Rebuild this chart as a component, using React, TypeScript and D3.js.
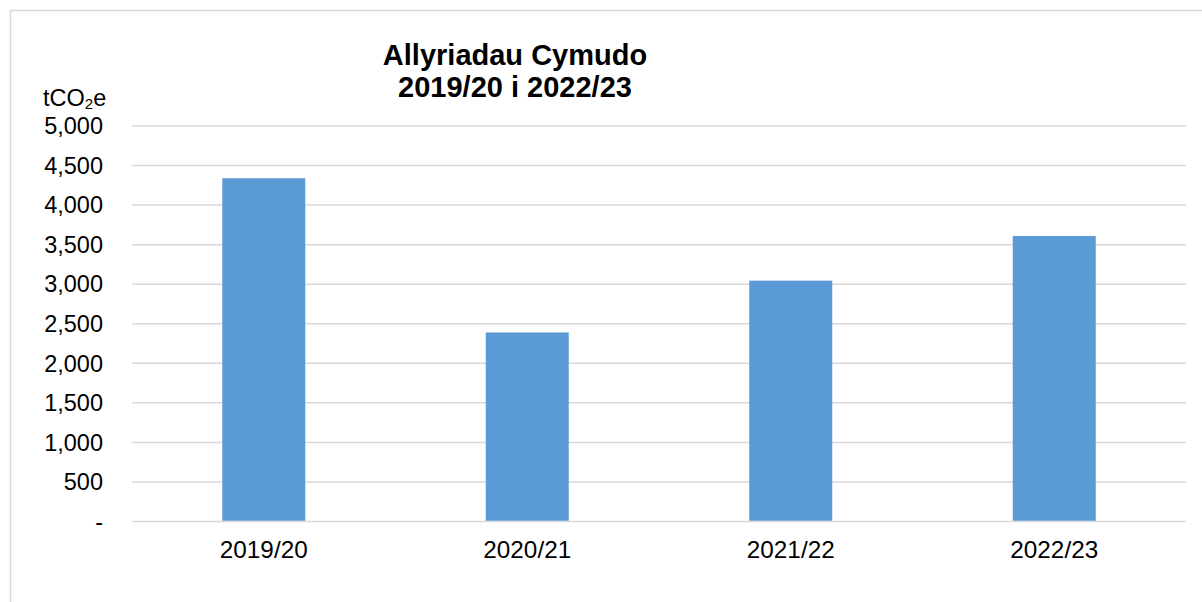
import React, { useRef, useEffect } from "react";
import * as d3 from "d3";

const categories = ["2019/20", "2020/21", "2021/22", "2022/23"];
const emissions = [4340, 2390, 3045, 3610];
const yTicks = [0, 500, 1000, 1500, 2000, 2500, 3000, 3500, 4000, 4500, 5000];
const titleLines = ["Allyriadau Cymudo", "2019/20 i 2022/23"];

const App = () => {
  const svgRef = useRef<SVGSVGElement | null>(null);

  useEffect(() => {
    if (!svgRef.current) return;
    const svg = d3.select(svgRef.current);
    svg.selectAll("*").remove();

    const width = 1202;
    const height = 602;
    const margin = { top: 126, right: 16, bottom: 80.5, left: 132 };
    const font = "Liberation Sans, Arial, sans-serif";

    svg.attr("width", width).attr("height", height);

    // frame
    svg
      .append("rect")
      .attr("x", 10.5)
      .attr("y", 10.5)
      .attr("width", 1200)
      .attr("height", 600)
      .attr("fill", "white")
      .attr("stroke", "#d9d9d9")
      .attr("stroke-width", 1.5);

    const x = d3
      .scaleBand()
      .domain(categories)
      .range([margin.left, width - margin.right])
      .paddingInner(0.685)
      .paddingOuter(0.3425);

    const y = d3
      .scaleLinear()
      .domain([0, 5000])
      .range([height - margin.bottom, margin.top]);

    // gridlines
    svg
      .append("g")
      .selectAll("line")
      .data(yTicks)
      .enter()
      .append("line")
      .attr("x1", margin.left)
      .attr("x2", width - margin.right)
      .attr("y1", (d) => y(d))
      .attr("y2", (d) => y(d))
      .attr("stroke", "#d9d9d9")
      .attr("stroke-width", 1.5);

    // y labels
    const fmt = d3.format(",");
    svg
      .append("g")
      .selectAll("text")
      .data(yTicks)
      .enter()
      .append("text")
      .attr("x", 103)
      .attr("y", (d) => y(d))
      .attr("dy", "0.35em")
      .attr("text-anchor", "end")
      .style("font-family", font)
      .style("font-size", "23.5px")
      .attr("fill", "#000")
      .text((d) => (d === 0 ? "-" : fmt(d)));

    // bars
    svg
      .append("g")
      .selectAll("rect")
      .data(emissions)
      .enter()
      .append("rect")
      .attr("x", (d, i) => x(categories[i]) as number)
      .attr("width", x.bandwidth())
      .attr("y", (d) => y(d))
      .attr("height", (d) => y(0) - y(d) - 0.75)
      .attr("fill", "#5b9bd5");

    // x labels
    svg
      .append("g")
      .selectAll("text")
      .data(categories)
      .enter()
      .append("text")
      .attr("x", (d) => (x(d) as number) + x.bandwidth() / 2)
      .attr("y", 558)
      .attr("text-anchor", "middle")
      .style("font-family", font)
      .style("font-size", "24.3px")
      .attr("fill", "#000")
      .text((d) => d);

    // title
    svg
      .append("g")
      .selectAll("text")
      .data(titleLines)
      .enter()
      .append("text")
      .attr("x", 515)
      .attr("y", (d, i) => 65 + i * 32)
      .attr("text-anchor", "middle")
      .style("font-family", font)
      .style("font-size", "29px")
      .style("font-weight", "bold")
      .attr("fill", "#000")
      .text((d) => d);

    // unit label
    const unit = svg
      .append("text")
      .attr("x", 43)
      .attr("y", 106)
      .style("font-family", font)
      .style("font-size", "23.5px")
      .attr("fill", "#000");
    unit.append("tspan").text("tCO");
    unit.append("tspan").attr("dy", 3).style("font-size", "15px").text("2");
    unit.append("tspan").attr("dy", -3).text("e");
  }, []);

  return (
    <svg
      ref={svgRef}
      style={{ position: "absolute", left: 0, top: 0, display: "block" }}
    ></svg>
  );
};

export default App;
